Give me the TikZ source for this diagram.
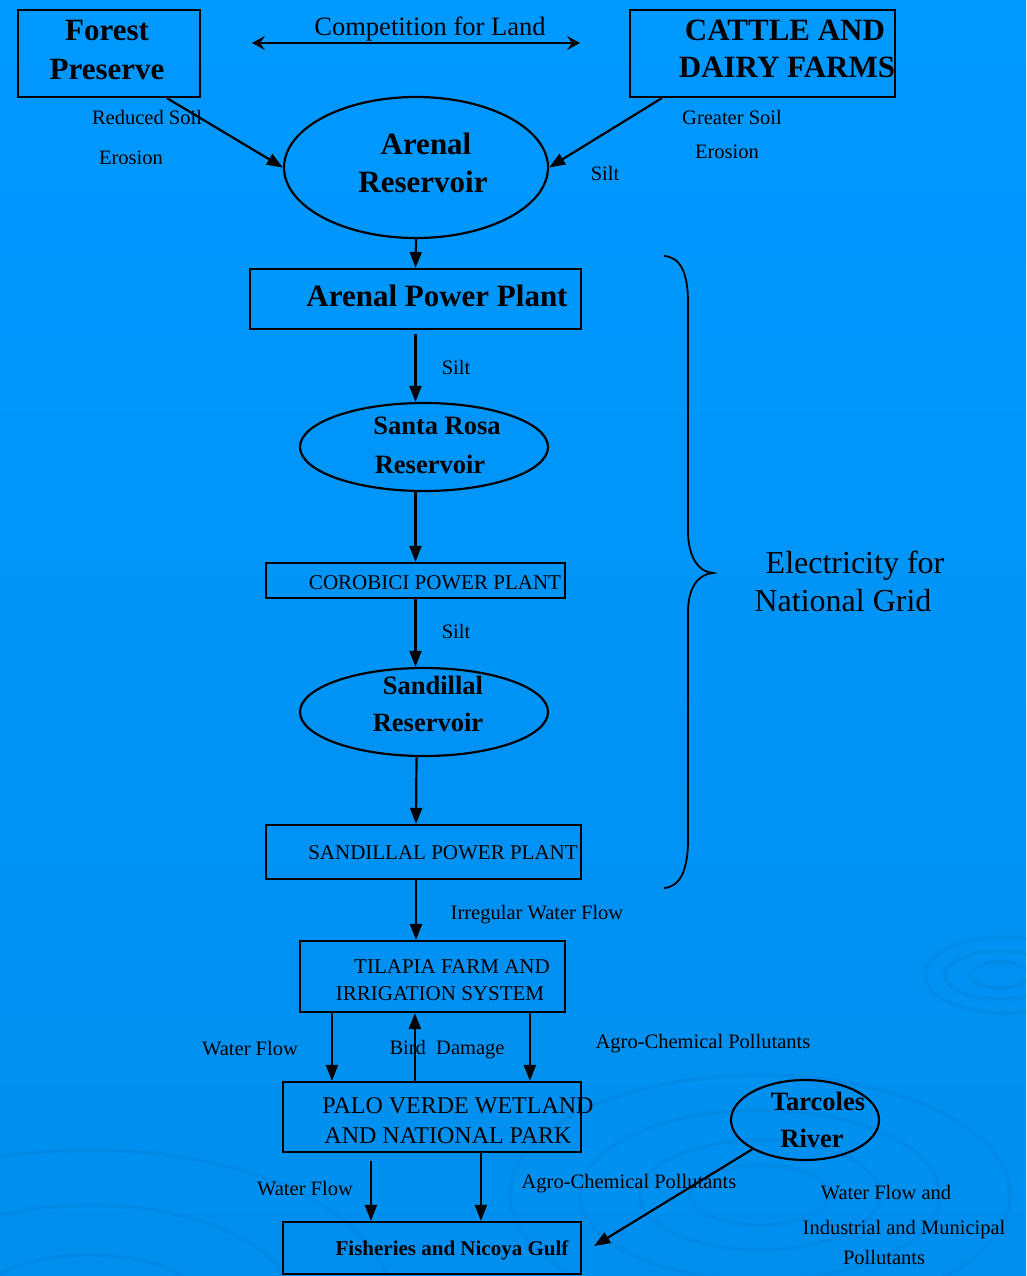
\documentclass[tikz,border=0pt]{standalone}
\usepackage{fontspec}
\setmainfont{Liberation Serif}
\usetikzlibrary{arrows.meta,calc,shapes.geometric}
\definecolor{bgtop}{HTML}{0099FF}
\definecolor{bgbot}{HTML}{008FEE}
\definecolor{ripple}{HTML}{0078CC}
\begin{document}
\begin{tikzpicture}[x=1pt,y=-1pt,
  box/.style={draw=black,line width=2.2pt,inner sep=0pt,rectangle},
  ell/.style={draw=black,line width=2.2pt,inner sep=0pt,ellipse},
  txt/.style={inner sep=0pt,text depth=0pt},
  bigb/.style={txt,text height=21pt,font=\fontsize{31}{38}\selectfont\bfseries},
  midb/.style={txt,text height=18pt,font=\fontsize{26.5}{38}\selectfont\bfseries},
  capt/.style={txt,text height=14.3pt,font=\fontsize{21}{27}\selectfont},
  capm/.style={txt,text height=16.3pt,font=\fontsize{24}{30}\selectfont},
  lbl/.style={txt,text height=14pt,font=\fontsize{20.5}{26}\selectfont},
  arr/.style={line width=2.2pt,-{Triangle[length=16pt,width=12pt]}},
  brace/.style={line width=1.8pt}
]
% background
\shade[top color=bgtop,bottom color=bgbot] (0,0) rectangle (1026,1276);
\useasboundingbox (0,0) rectangle (1026,1276);
\begin{scope}
\clip (0,0) rectangle (1026,1276);
\begin{scope}[ripple,opacity=0.22,line width=4pt]
  \draw (1000,975) ellipse [x radius=30,y radius=13];
  \draw (1000,975) ellipse [x radius=55,y radius=24];
  \draw (1005,975) ellipse [x radius=80,y radius=38];
  \draw (760,1195) ellipse [x radius=70,y radius=30];
  \draw (760,1195) ellipse [x radius=120,y radius=55];
  \draw (760,1195) ellipse [x radius=180,y radius=85];
  \draw (760,1195) ellipse [x radius=250,y radius=120];
  \draw (90,1300) ellipse [x radius=110,y radius=45];
  \draw (90,1300) ellipse [x radius=200,y radius=95];
  \draw (90,1300) ellipse [x radius=300,y radius=150];
\end{scope}
\end{scope}

% boxes and ellipses
\node[box,minimum width=182,minimum height=87] (fp) at (109,53.5) {};
\node[bigb] (fpt1) at (107,30) {Forest};
\node[bigb] (fpt2) at (107,69) {Preserve};
\node[box,minimum width=265,minimum height=87] (cd) at (762.5,53.5) {};
\node[bigb] (cdt1) at (785,30) {CATTLE AND};
\node[bigb] (cdt2) at (787,67) {DAIRY FARMS};
\node[ell,minimum width=264,minimum height=141] (ar) at (416,167.5) {};
\node[bigb] (art1) at (426,144) {Arenal};
\node[bigb] (art2) at (423,182) {Reservoir};
\node[box,minimum width=331,minimum height=60] (apl) at (415.5,299) {};
\node[bigb] (aplt) at (437,296) {Arenal Power Plant};
\node[ell,minimum width=248,minimum height=88] (sr) at (424,447) {};
\node[midb] (srt1) at (437,425) {Santa Rosa};
\node[midb] (srt2) at (430,464) {Reservoir};
\node[box,minimum width=299,minimum height=35] (cor) at (415.5,580.5) {};
\node[capt] (cort) at (435,582) {COROBICI POWER PLANT};
\node[ell,minimum width=248,minimum height=88] (sd) at (424,712) {};
\node[midb] (sdt1) at (433,685) {Sandillal};
\node[midb] (sdt2) at (428,722) {Reservoir};
\node[box,minimum width=315,minimum height=54] (spp) at (423.5,852) {};
\node[capt] (sppt) at (443,852) {SANDILLAL POWER PLANT};
\node[box,minimum width=265,minimum height=71] (til) at (432.5,976.5) {};
\node[capt] (tilt1) at (452,966) {TILAPIA FARM AND};
\node[capt] (tilt2) at (440,993) {IRRIGATION SYSTEM};
\node[box,minimum width=298,minimum height=70] (pv) at (432,1117) {};
\node[capm] (pvt1) at (458,1105) {PALO VERDE WETLAND};
\node[capm] (pvt2) at (448,1135) {AND NATIONAL PARK};
\node[box,minimum width=298,minimum height=52] (fish) at (432,1248) {};
\node[txt,text height=14.3pt,font=\fontsize{21}{26}\selectfont\bfseries] (fisht) at (452,1248) {Fisheries and Nicoya Gulf};
\node[ell,minimum width=148,minimum height=80] (tr) at (805,1120) {};
\node[midb] (trt1) at (818,1101) {Tarcoles};
\node[midb] (trt2) at (812,1138) {River};

% competition arrow
\node[txt,text height=18pt,font=\fontsize{26.5}{32}\selectfont] (comp) at (430,27) {Competition for Land};
\coordinate (cl) at (252,43);
\coordinate (cr) at (580,43);
\draw[line width=2pt,{Stealth[length=13pt,width=14pt,inset=5pt]}-{Stealth[length=13pt,width=14pt,inset=5pt]}] (cl) -- (cr);

% connectors
\draw[arr] ($(fp.south west)+(150,0)$) -- (ar.west);
\draw[arr] ($(cd.south west)+(33,0)$) -- (ar.east);
\draw[arr] (ar.south) -- (apl.north);
\draw[arr] ($(apl.south)+(0,4)$) -- (apl.south |- sr.north);
\draw[arr] (cor.north |- sr.south) -- (cor.north);
\draw[arr] (cor.south) -- (cor.south |- sd.north);
\draw[arr] ($(cor.south |- sd.south)+(1,0)$) -- ($(spp.north)+(-7.5,0)$);
\draw[arr] ($(spp.south)+(-7.5,0)$) -- ($(til.north)+(-16.5,0)$);
\draw[arr] ($(til.south west)+(33,0)$) -- ($(pv.north west)+(50,0)$);
\draw[arr] ($(pv.north west)+(133,0)$) -- ($(til.south west)+(116,0)$);
\draw[arr] ($(til.south west)+(231,0)$) -- ($(pv.north west)+(248,0)$);
\draw[arr] ($(pv.south west)+(89,8)$) -- ($(fish.north west)+(89,0)$);
\draw[arr] ($(pv.south west)+(199,0)$) -- ($(fish.north west)+(199,0)$);
\draw[arr] (tr.209.5) -- ($(fish.east)+(12,-2)$);

% labels
\node[lbl] (l1) at (147,118) {Reduced Soil};
\node[lbl] (l2) at (131,158) {Erosion};
\node[lbl] (l3) at (732,118) {Greater Soil};
\node[lbl] (l4) at (727,152) {Erosion};
\node[lbl] (l5) at (605,174) {Silt};
\node[lbl] (l6) at (456,367) {Silt};
\node[lbl] (l7) at (456,631) {Silt};
\node[lbl] (l8) at (537,912) {Irregular Water Flow};
\node[lbl] (l9) at (250,1048) {Water Flow};
\node[lbl] (l10) at (447,1047) {Bird\ \ Damage};
\node[lbl] (l11) at (703,1041) {Agro-Chemical Pollutants};
\node[lbl] (l12) at (305,1188) {Water Flow};
\node[lbl] (l13) at (629,1181) {Agro-Chemical Pollutants};
\node[lbl] (l14) at (886,1192) {Water Flow and};
\node[lbl] (l15) at (904,1227) {Industrial and Municipal};
\node[lbl] (l16) at (884,1257) {Pollutants};

% brace
\draw[brace] (664,256) .. controls (680,257) and (688,272) .. (688,303)
  -- (688,531) .. controls (688,556) and (698,572) .. (713,573)
  .. controls (698,574) and (688,588) .. (688,612)
  -- (688,840) .. controls (688,870) and (680,887) .. (664,888);
\node[txt,text height=21.8pt,font=\fontsize{32}{38}\selectfont] (el1) at (855,563) {Electricity for};
\node[txt,text height=21.8pt,font=\fontsize{32}{38}\selectfont] (el2) at (843,601) {National Grid};
\end{tikzpicture}
\end{document}
